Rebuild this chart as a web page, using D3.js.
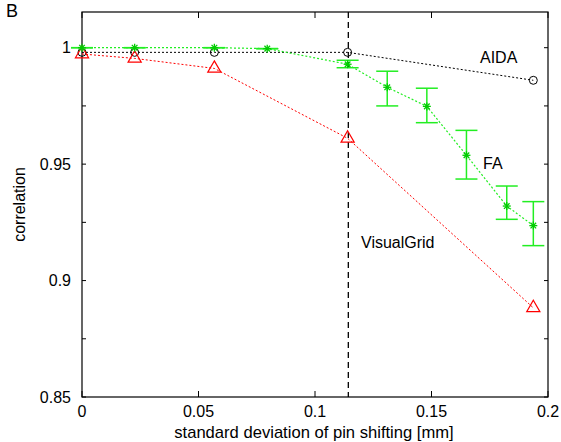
<!DOCTYPE html>
<html><head><meta charset="utf-8">
<script src="https://cdn.jsdelivr.net/npm/d3@7"></script>
<style>body{margin:0;background:#fff}svg{display:block}text{font-family:"Liberation Sans",Arial,sans-serif}</style>
</head><body>
<svg id="c" width="561" height="442"></svg>
<script>
const xTicks = [0, 0.05, 0.1, 0.15, 0.2];
const xTickLabels = ["0", "0.05", "0.1", "0.15", "0.2"];
const yTicks = [0.85, 0.9, 0.95, 1];
const yTickLabels = ["0.85", "0.9", "0.95", "1"];
const yMinorTicks = [0.875, 0.925, 0.975];
const thresholdX = 0.1143;

const aidaX = [0, 0.0226, 0.0568, 0.114, 0.1937];
const aidaY = [0.998, 0.998, 0.998, 0.998, 0.986];

const faX = [0, 0.0226, 0.0568, 0.0795, 0.114, 0.131, 0.148, 0.165, 0.1823, 0.1937];
const faY = [1.0, 1.0, 1.0, 0.9996, 0.9929, 0.983, 0.9748, 0.9538, 0.932, 0.9236];
const faLo = [1.0, 1.0, 1.0, 0.9996, 0.9914, 0.975, 0.9678, 0.9436, 0.9263, 0.915];
const faHi = [1.0, 1.0, 1.0, 0.9996, 0.9946, 0.9899, 0.9826, 0.9645, 0.9406, 0.9339];

const vgX = [0, 0.0226, 0.0568, 0.114, 0.1937];
const vgY = [0.9973, 0.9954, 0.9911, 0.9611, 0.8883];

const svg = d3.select("#c");
const L = 82, R = 548, T = 12, B = 397;
const x = d3.scaleLinear().domain([0, 0.2]).range([L, R]);
const y = d3.scaleLinear().domain([0.85, 1.01533]).range([B, T]);

// ticks inward on all four sides
const g = svg.append("g");
const tickLen = 6;
xTicks.forEach(v => {
  g.append("line").attr("x1", x(v)).attr("x2", x(v)).attr("y1", B).attr("y2", B - tickLen).attr("stroke", "#000");
  g.append("line").attr("x1", x(v)).attr("x2", x(v)).attr("y1", T).attr("y2", T + tickLen).attr("stroke", "#000");
});
yTicks.concat(yMinorTicks).forEach(v => {
  g.append("line").attr("x1", L).attr("x2", L + 4).attr("y1", y(v)).attr("y2", y(v)).attr("stroke", "#000");
  g.append("line").attr("x1", R).attr("x2", R - 4).attr("y1", y(v)).attr("y2", y(v)).attr("stroke", "#000");
});
xTicks.forEach((v, i) => {
  g.append("text").attr("x", x(v)).attr("y", 417).attr("text-anchor", "middle").attr("font-size", 16).text(xTickLabels[i]);
});
yTicks.forEach((v, i) => {
  g.append("text").attr("x", 71).attr("y", y(v)).attr("dy", "0.35em").attr("text-anchor", "end").attr("font-size", 16).text(yTickLabels[i]);
});
// frame
svg.append("rect").attr("x", L).attr("y", T).attr("width", R - L).attr("height", B - T)
  .attr("fill", "none").attr("stroke", "#000").attr("stroke-width", 1.2);

// axis titles
svg.append("text").attr("x", (L + R) / 2 - 1).attr("y", 437.5).attr("text-anchor", "middle").attr("font-size", 16.6)
  .text("standard deviation of pin shifting [mm]");
svg.append("text").attr("transform", `translate(25,${(T + B) / 2}) rotate(-90)`).attr("text-anchor", "middle")
  .attr("font-size", 16).text("correlation");
svg.append("text").attr("x", 6).attr("y", 17).attr("font-size", 18).text("B");

// threshold dashed line
svg.append("line").attr("x1", x(thresholdX)).attr("x2", x(thresholdX)).attr("y1", T).attr("y2", B)
  .attr("stroke", "#000").attr("stroke-dasharray", "6,4").attr("stroke-width", 1.3);

const line = d3.line().x(d => x(d[0])).y(d => y(d[1]));

// AIDA
svg.append("path").attr("d", line(aidaX.map((v, i) => [v, aidaY[i]])))
  .attr("fill", "none").attr("stroke", "#000").attr("stroke-dasharray", "2,2").attr("stroke-width", 1);
aidaX.forEach((v, i) => {
  svg.append("circle").attr("cx", x(v)).attr("cy", y(aidaY[i])).attr("r", 4).attr("fill", "none").attr("stroke", "#000");
});

// VisualGrid
svg.append("path").attr("d", line(vgX.map((v, i) => [v, vgY[i]])))
  .attr("fill", "none").attr("stroke", "#f00").attr("stroke-dasharray", "2,2").attr("stroke-width", 1);
const tri = d3.symbol().type(d3.symbolTriangle).size(75);
vgX.forEach((v, i) => {
  svg.append("path").attr("d", tri()).attr("transform", `translate(${x(v)},${y(vgY[i])})`)
    .attr("fill", "none").attr("stroke", "#f00").attr("stroke-width", 1.2);
});

// FA
const green = "#22ee22";
svg.append("path").attr("d", line(faX.map((v, i) => [v, faY[i]])))
  .attr("fill", "none").attr("stroke", green).attr("stroke-dasharray", "2,2").attr("stroke-width", 1.2);
faX.forEach((v, i) => {
  const cx = x(v);
  svg.append("line").attr("x1", cx).attr("x2", cx).attr("y1", y(faLo[i])).attr("y2", y(faHi[i])).attr("stroke", green).attr("stroke-width", 1.5);
  [faLo[i], faHi[i]].forEach(e => {
    svg.append("line").attr("x1", cx - 11).attr("x2", cx + 11).attr("y1", y(e)).attr("y2", y(e)).attr("stroke", green).attr("stroke-width", 1.5);
  });
  const cy = y(faY[i]);
  const s = 4;
  [[-s, 0, s, 0], [0, -s, 0, s], [-s * 0.7, -s * 0.7, s * 0.7, s * 0.7], [-s * 0.7, s * 0.7, s * 0.7, -s * 0.7]].forEach(l => {
    svg.append("line").attr("x1", cx + l[0]).attr("y1", cy + l[1]).attr("x2", cx + l[2]).attr("y2", cy + l[3])
      .attr("stroke", "#00cc00").attr("stroke-width", 1.3);
  });
});

// series labels
svg.append("text").attr("x", 480).attr("y", 63).attr("font-size", 16).text("AIDA");
svg.append("text").attr("x", 483).attr("y", 169).attr("font-size", 16).text("FA");
svg.append("text").attr("x", 361).attr("y", 248).attr("font-size", 16).text("VisualGrid");
</script>
</body></html>
